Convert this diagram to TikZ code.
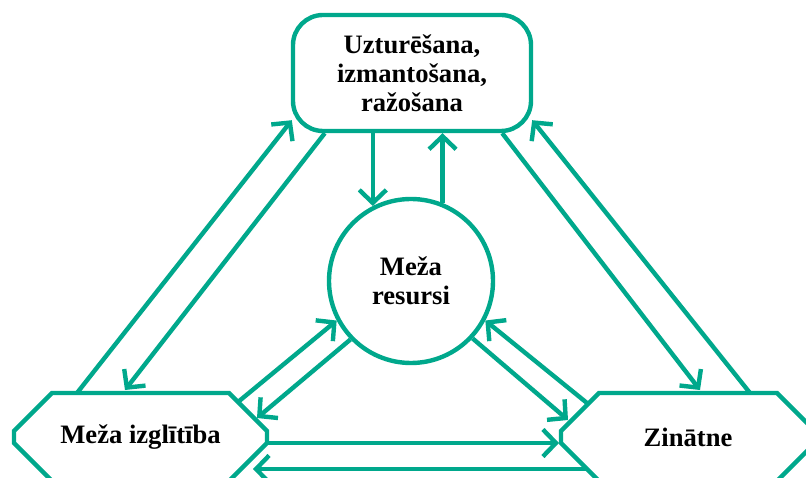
\documentclass[tikz,border=0pt]{standalone}
\usepackage{fontspec}
\setmainfont{Liberation Serif}
\usetikzlibrary{arrows.meta,calc}
\definecolor{teal1}{RGB}{0,168,140}
\begin{document}
\begin{tikzpicture}[x=1pt,y=-1pt,
  lbl/.style={font=\fontsize{26.6}{29}\selectfont\bfseries, align=center, text=black},
  boxline/.style={draw=teal1, line width=4.4pt},
  link/.style={draw=teal1, line width=4.4pt, -{Straight Barb[length=13pt,width=27pt]}},
]
\clip (0,0) rectangle (806,478);
\fill[white] (0,0) rectangle (806,478);
\node[lbl, boxline, rounded corners=30pt, minimum width=238pt, minimum height=116pt, inner sep=0pt] (top) at (412,73) {Uzturēšana,\\izmantošana,\\ražošana};
\node[lbl, boxline, circle, minimum size=164pt, inner sep=0pt] (res) at (411,281) {Meža\\resursi};
\node[lbl, minimum width=253pt, minimum height=88pt, inner sep=0pt, outer sep=0pt] (edu) at (140.5,437) {Meža izglītība};
\node[lbl, minimum width=254pt, minimum height=88pt, inner sep=0pt, outer sep=0pt] (sci) at (688,437) {Zinātne};
\draw[boxline] ($(edu.north west)+(38,0)$) -- ($(edu.north east)+(-38,0)$) -- ($(edu.east)+(0,-6)$) -- ($(edu.east)+(0,6)$) -- ($(edu.south east)+(-38,0)$) -- ($(edu.south west)+(38,0)$) -- ($(edu.west)+(0,6)$) -- ($(edu.west)+(0,-6)$) -- cycle;
\draw[boxline] ($(sci.north west)+(38,0)$) -- ($(sci.north east)+(-38,0)$) -- ($(sci.east)+(0,-6)$) -- ($(sci.east)+(0,6)$) -- ($(sci.south east)+(-38,0)$) -- ($(sci.south west)+(38,0)$) -- ($(sci.west)+(0,6)$) -- ($(sci.west)+(0,-6)$) -- cycle;
% top <-> resources
\draw[link] (res.117 |- top.south) -- (res.117);
\draw[link] (res.68) -- (res.68 |- top.south);
% top <-> education
\draw[link] ($(edu.north west)+(63,0)$) -- ($(top.south west)+(1,-13)$);
\draw[link] ($(top.south west)+(34,0)$) -- ($(edu.north west)+(111,-3)$);
% top <-> science
\draw[link] ($(top.south east)+(-31,0)$) -- ($(sci.north west)+(139,-3)$);
\draw[link] ($(sci.north west)+(189,0)$) -- ($(top.south east)+(-1,-13)$);
% resources <-> education
\draw[link] ($(edu.north east)+(-29,9)$) -- (res.208);
\draw[link] (res.224) -- ($(edu.north east)+(-10,25)$);
% resources <-> science
\draw[link] (res.317) -- ($(sci.north west)+(7,27)$);
\draw[link] ($(sci.north west)+(26,10)$) -- (res.332);
% education <-> science
\draw[link] ($(edu.east)+(0,6)$) -- ($(sci.west)+(-2,6)$);
\draw[link] ($(sci.west)+(26,32)$) -- ($(edu.east)+(-14,32)$);
\end{tikzpicture}
\end{document}
